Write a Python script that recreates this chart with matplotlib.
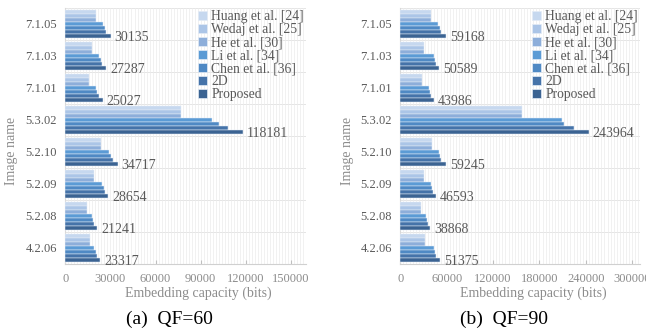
import numpy as np
import matplotlib
matplotlib.use("Agg")
import matplotlib.pyplot as plt
from matplotlib.patches import Patch
from matplotlib.ticker import MultipleLocator

plt.rcParams['font.family'] = ['Liberation Serif', 'DejaVu Serif']

images = ['7.1.05', '7.1.03', '7.1.01', '5.3.02', '5.2.10', '5.2.09', '5.2.08', '4.2.06']
methods = ['Huang et al. [24]', 'Wedaj et al. [25]', 'He et al. [30]', 'Li et al. [34]',
           'Chen et al. [36]', '2D', 'Proposed']
colors = ['#c6d8ef', '#abc5e7', '#8daeda', '#5b9bd5', '#4f89c4', '#4573a9', '#3b6392']

# embedding capacity (bits), QF=60
qf60 = {
    'Huang et al. [24]': [20700, 17500, 15500, 77200, 23500, 19300, 14200, 16200],
    'Wedaj et al. [25]': [20700, 17500, 15500, 77200, 23500, 19300, 14200, 16200],
    'He et al. [30]':    [20700, 17500, 15500, 77200, 23500, 19300, 14200, 16200],
    'Li et al. [34]':    [25200, 22600, 20400, 97200, 29200, 24300, 17700, 19300],
    'Chen et al. [36]':  [26300, 23500, 21200, 102300, 30500, 25500, 18600, 20100],
    '2D':                [27000, 24300, 22100, 108200, 31400, 26100, 19300, 20800],
    'Proposed':          [30135, 27287, 25027, 118181, 34717, 28654, 21241, 23317],
}
# embedding capacity (bits), QF=90
qf90 = {
    'Huang et al. [24]': [39300, 31100, 27600, 158000, 41400, 31100, 26300, 31900],
    'Wedaj et al. [25]': [39300, 31100, 27600, 158000, 41400, 31100, 26300, 31900],
    'He et al. [30]':    [39300, 31100, 27600, 158000, 41400, 31100, 26300, 31900],
    'Li et al. [34]':    [49200, 43200, 37100, 208900, 50500, 40100, 33700, 43600],
    'Chen et al. [36]':  [50900, 44500, 38400, 212300, 51800, 41000, 35000, 44900],
    '2D':                [52700, 45700, 39300, 224900, 53100, 42300, 35800, 46200],
    'Proposed':          [59168, 50589, 43986, 243964, 59245, 46593, 38868, 51375],
}

W, H = 646, 333
fig = plt.figure(figsize=(W / 100, H / 100), dpi=100)

top, bottom = 8, 264
grey = '#595959'
light = '#8c8c8c'


def panel(ax, data, xmax, major, minor, offset):
    y = np.arange(len(images))
    bh = 0.123
    for j, m in enumerate(methods):
        pos = y - 3 * bh + j * bh
        ax.barh(pos, data[m], height=bh, color=colors[j], edgecolor='#e4ecf6',
                linewidth=0.35, zorder=3)
    for i, v in enumerate(data['Proposed']):
        ax.text(v + offset, y[i] + 3 * bh + 0.04, str(v), va='center', ha='left',
                fontsize=10, color=grey, zorder=4)
    ax.set_xlim(0, xmax)
    ax.set_ylim(len(images) - 0.5, -0.5)
    ax.set_yticks(y)
    ax.set_yticklabels(images)
    ax.xaxis.set_minor_locator(MultipleLocator(minor))
    ax.set_xticks(np.arange(0, xmax, major))
    ax.tick_params(axis='y', length=0, pad=6, labelsize=9, labelcolor=grey)
    ax.tick_params(axis='x', which='major', direction='in', length=3, color='#bfbfbf',
                   pad=6.5, labelsize=9, labelcolor=light)
    ax.tick_params(axis='x', which='minor', length=0)
    ax.grid(axis='x', which='both', color='#ececec', linewidth=0.5, zorder=0)
    for b in np.arange(-0.5, len(images), 1.0):
        ax.axhline(b, color='#e0e0e0', linewidth=0.6, zorder=1)
    for s in ['top', 'right']:
        ax.spines[s].set_visible(False)
    ax.spines['bottom'].set_color('#d0d0d0')
    ax.spines['left'].set_color('#d9d9d9')
    handles = [Patch(facecolor=c, edgecolor='#e4ecf6', linewidth=0.5) for c in colors]
    leg = ax.legend(handles, methods, loc='upper right', frameon=False, fontsize=9.8,
                    labelspacing=0.0, handlelength=0.65, handleheight=0.65,
                    handletextpad=0.35, borderpad=0.0, borderaxespad=0.15)
    for t in leg.get_texts():
        t.set_color(grey)


ax1 = fig.add_axes([65.3 / W, 1 - bottom / H, (306 - 65.3) / W, (bottom - top) / H])
ax2 = fig.add_axes([400.3 / W, 1 - bottom / H, (640 - 400.3) / W, (bottom - top) / H])
panel(ax1, qf60, 160000, 30000, 2000, 2600)
panel(ax2, qf90, 310000, 60000, 4000, 5000)

fig.text(12 / W, 1 - 151 / H, 'Image name', rotation=90, ha='center', va='center',
         fontsize=10, color=light)
fig.text(348 / W, 1 - 151 / H, 'Image name', rotation=90, ha='center', va='center',
         fontsize=10, color=light)
fig.text(198 / W, 1 - 293 / H, 'Embedding capacity (bits)', ha='center', va='center',
         fontsize=10, color=light)
fig.text(533 / W, 1 - 293 / H, 'Embedding capacity (bits)', ha='center', va='center',
         fontsize=10, color=light)
fig.text(169 / W, 1 - 319 / H, '(a)  QF=60', ha='center', va='center', fontsize=14)
fig.text(504 / W, 1 - 319 / H, '(b)  QF=90', ha='center', va='center', fontsize=14)

fig.savefig('out.png', dpi=100)
